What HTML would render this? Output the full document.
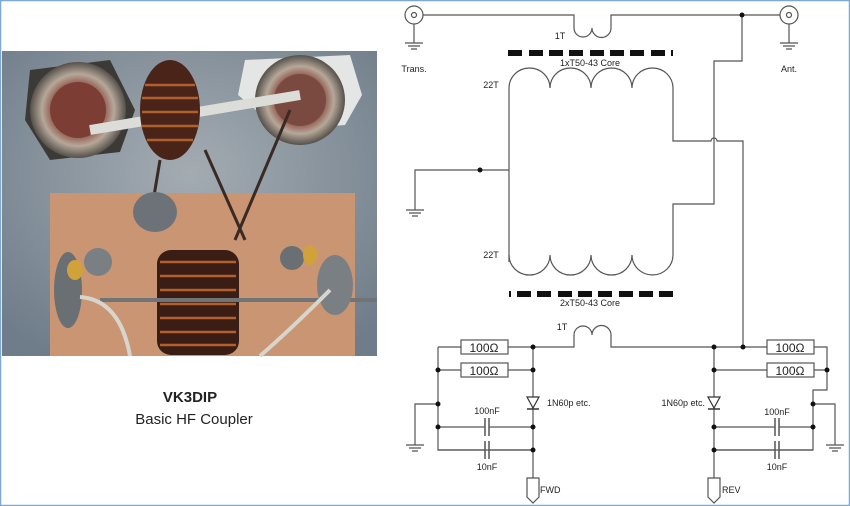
<!DOCTYPE html>
<html><head><meta charset="utf-8"><style>
html,body{margin:0;padding:0;background:#fff;}
svg{display:block;}
text{font-family:"Liberation Sans",sans-serif;fill:#222;}
</style></head><body>
<svg width="850" height="506" viewBox="0 0 850 506" xmlns="http://www.w3.org/2000/svg">
<rect x="0.5" y="0.5" width="849" height="505" fill="#fff" stroke="#7fa8d0" stroke-width="1.5"/>
<defs>
<radialGradient id="mt" cx="50%" cy="40%" r="70%"><stop offset="0" stop-color="#a4acb2"/><stop offset="1" stop-color="#6f7d8a"/></radialGradient>
<radialGradient id="cn" cx="50%" cy="50%" r="50%"><stop offset="0" stop-color="#6a3a30"/><stop offset="0.5" stop-color="#8a4a3e"/><stop offset="0.75" stop-color="#b6a89a"/><stop offset="1" stop-color="#55504a"/></radialGradient>
</defs>
<rect x="2" y="51" width="375" height="305" fill="url(#mt)"/>
<polygon points="30,70 110,60 135,110 120,152 50,160 25,120" fill="#3c3a36"/>
<circle cx="78" cy="110" r="48" fill="url(#cn)"/>
<circle cx="78" cy="110" r="28" fill="#7c3e34"/>
<polygon points="245,60 350,55 362,95 345,125 280,130 238,95" fill="#e4e6e6"/>
<circle cx="300" cy="100" r="45" fill="url(#cn)"/>
<circle cx="300" cy="100" r="26" fill="#7a4a40"/>
<rect x="50" y="193" width="305" height="163" fill="#c99573"/>
<path d="M90,130 L300,95" stroke="#dcdcd8" stroke-width="10"/>
<ellipse cx="170" cy="110" rx="30" ry="50" fill="#4a2418"/>
<g stroke="#b0602c" stroke-width="2.5"><line x1="145" y1="85" x2="195" y2="85"/><line x1="142" y1="98" x2="198" y2="98"/><line x1="142" y1="112" x2="198" y2="112"/><line x1="142" y1="126" x2="198" y2="126"/><line x1="147" y1="140" x2="193" y2="140"/></g>
<path d="M160,160 L150,220 M205,150 L245,240 M290,110 L235,240" stroke="#3a2a24" stroke-width="3" fill="none"/>
<ellipse cx="155" cy="212" rx="22" ry="20" fill="#6c7278"/>
<rect x="157" y="250" width="82" height="105" rx="14" fill="#3a1d14"/>
<g stroke="#b3602e" stroke-width="2.5"><line x1="160" y1="262" x2="236" y2="262"/><line x1="160" y1="276" x2="236" y2="276"/><line x1="160" y1="290" x2="236" y2="290"/><line x1="160" y1="304" x2="236" y2="304"/><line x1="160" y1="318" x2="236" y2="318"/><line x1="160" y1="332" x2="236" y2="332"/><line x1="160" y1="345" x2="236" y2="345"/></g>
<path d="M100,300 L377,300" stroke="#707478" stroke-width="4"/>
<ellipse cx="68" cy="290" rx="14" ry="38" fill="#6a6f74"/>
<circle cx="98" cy="262" r="14" fill="#7a7f84"/>
<ellipse cx="75" cy="270" rx="8" ry="10" fill="#d2a23a"/>
<ellipse cx="335" cy="285" rx="18" ry="30" fill="#7a7f84"/>
<circle cx="292" cy="258" r="12" fill="#6a6f74"/>
<ellipse cx="310" cy="255" rx="7" ry="10" fill="#d2a23a"/>
<path d="M80,297 Q120,300 130,356" stroke="#d8d6cc" stroke-width="4" fill="none"/>
<path d="M330,290 Q290,330 260,356" stroke="#d8d6cc" stroke-width="4" fill="none"/>
<text x="190" y="402" font-size="15" font-weight="bold" text-anchor="middle">VK3DIP</text>
<text x="194" y="424" font-size="15" text-anchor="middle">Basic HF Coupler</text>

<g stroke="#555" stroke-width="1.2" fill="none">
<circle cx="414" cy="15" r="9"/><circle cx="414" cy="15" r="2.5"/>
<circle cx="789" cy="15" r="9"/><circle cx="789" cy="15" r="2.5"/>
<path d="M423,15 H574 V28 A9,9 0 0 0 592,28 A9,9 0 0 0 611,28 V15 H780"/>
<path d="M414,24 V43 M405,43 H423 M408,46 H420 M411,49 H417"/>
<path d="M789,24 V43 M780,43 H798 M783,46 H795 M786,49 H792"/>
<path d="M509,262 V88 A20.5,20 0 0 1 550,88 A20.5,20 0 0 1 591,88 A20.5,20 0 0 1 632,88 A20.5,20 0 0 1 673,88 V141 H711 A3,3 0 0 1 717,141 H743 V347"/>
<path d="M742,15 V61 H714 V204 H673 V255"/>
<path d="M509,255 A20.5,20 0 0 0 550,255 A20.5,20 0 0 0 591,255 A20.5,20 0 0 0 632,255 A20.5,20 0 0 0 673,255"/>
<path d="M480,170 H509 M480,170 H415 V210 M406,210 H424 M409,213 H421 M412,216 H418"/>
<path d="M438,347 H461 M508,347 H574 V335 A9,9 0 0 1 592,335 A9,9 0 0 1 611,335 V347 H767 M814,347 H827 V390 H813 V450 H714"/>
<path d="M438,370 H461 M508,370 H533 M714,370 H767 M814,370 H827"/>
<path d="M438,347 V450 H533 M533,347 V478"/>
<path d="M438,427 H485 M489,427 H533 M438,450 H485 M489,450 H533"/>
<path d="M714,347 V478 M714,427 H775 M779,427 H813 M714,450 H775 M779,450 H813"/>
<path d="M438,404 H415 V445 M406,445 H424 M409,448 H421 M412,451 H418"/>
<path d="M813,404 H835 V445 M826,445 H844 M829,448 H841 M832,451 H838"/>
<rect x="461" y="340" width="47" height="14" fill="#fff"/><rect x="461" y="363" width="47" height="14" fill="#fff"/>
<rect x="767" y="340" width="47" height="14" fill="#fff"/><rect x="767" y="363" width="47" height="14" fill="#fff"/>
<path d="M485,418 V436 M489,418 V436 M485,441 V459 M489,441 V459 M775,418 V436 M779,418 V436 M775,441 V459 M779,441 V459" stroke-width="1.5"/>
<path d="M527,478 V497 L533,503 L539,497 V478 Z" fill="#fff"/>
<path d="M708,478 V497 L714,503 L720,497 V478 Z" fill="#fff"/>
</g>
<polygon points="527,397 539,397 533,408" fill="#fff" stroke="#333" stroke-width="1.2"/><line x1="527" y1="409" x2="539" y2="409" stroke="#333" stroke-width="1.5"/>
<polygon points="708,397 720,397 714,408" fill="#fff" stroke="#333" stroke-width="1.2"/><line x1="708" y1="409" x2="720" y2="409" stroke="#333" stroke-width="1.5"/>
<g fill="#111">
<circle cx="742" cy="15" r="2.5"/><circle cx="480" cy="170" r="2.5"/>
<circle cx="533" cy="347" r="2.5"/><circle cx="533" cy="370" r="2.5"/><circle cx="438" cy="370" r="2.5"/>
<circle cx="438" cy="404" r="2.5"/><circle cx="438" cy="427" r="2.5"/><circle cx="533" cy="427" r="2.5"/><circle cx="533" cy="450" r="2.5"/>
<circle cx="714" cy="347" r="2.5"/><circle cx="743" cy="347" r="2.5"/><circle cx="714" cy="370" r="2.5"/><circle cx="827" cy="370" r="2.5"/>
<circle cx="813" cy="404" r="2.5"/><circle cx="813" cy="427" r="2.5"/><circle cx="714" cy="427" r="2.5"/><circle cx="714" cy="450" r="2.5"/>
</g>
<g fill="#111">
<rect x="508" y="50" width="14" height="6"/><rect x="529" y="50" width="14" height="6"/><rect x="549" y="50" width="14" height="6"/><rect x="569" y="50" width="14" height="6"/><rect x="590" y="50" width="14" height="6"/><rect x="610" y="50" width="14" height="6"/><rect x="630" y="50" width="14" height="6"/><rect x="651" y="50" width="14" height="6"/><rect x="671" y="50" width="2" height="6"/>
<rect x="509" y="291" width="2" height="6"/><rect x="517" y="291" width="14" height="6"/><rect x="537" y="291" width="14" height="6"/><rect x="558" y="291" width="14" height="6"/><rect x="578" y="291" width="14" height="6"/><rect x="598" y="291" width="14" height="6"/><rect x="619" y="291" width="14" height="6"/><rect x="639" y="291" width="14" height="6"/><rect x="659" y="291" width="14" height="6"/>
</g>
<g font-size="9">
<text x="414" y="72" text-anchor="middle">Trans.</text>
<text x="789" y="72" text-anchor="middle">Ant.</text>
<text x="560" y="39" text-anchor="middle">1T</text>
<text x="590" y="66" text-anchor="middle">1xT50-43 Core</text>
<text x="491" y="88" text-anchor="middle">22T</text>
<text x="491" y="258" text-anchor="middle">22T</text>
<text x="590" y="306" text-anchor="middle">2xT50-43 Core</text>
<text x="562" y="330" text-anchor="middle">1T</text>
<text x="547" y="406">1N60p etc.</text>
<text x="705" y="406" text-anchor="end">1N60p etc.</text>
<text x="487" y="414" text-anchor="middle">100nF</text>
<text x="487" y="470" text-anchor="middle">10nF</text>
<text x="777" y="415" text-anchor="middle">100nF</text>
<text x="777" y="470" text-anchor="middle">10nF</text>
<text x="540" y="493">FWD</text>
<text x="722" y="493">REV</text>
</g>
<g font-size="12" text-anchor="middle">
<text x="484" y="352">100Ω</text><text x="484" y="375">100Ω</text>
<text x="790" y="352">100Ω</text><text x="790" y="375">100Ω</text>
</g>
</svg>
</body></html>
